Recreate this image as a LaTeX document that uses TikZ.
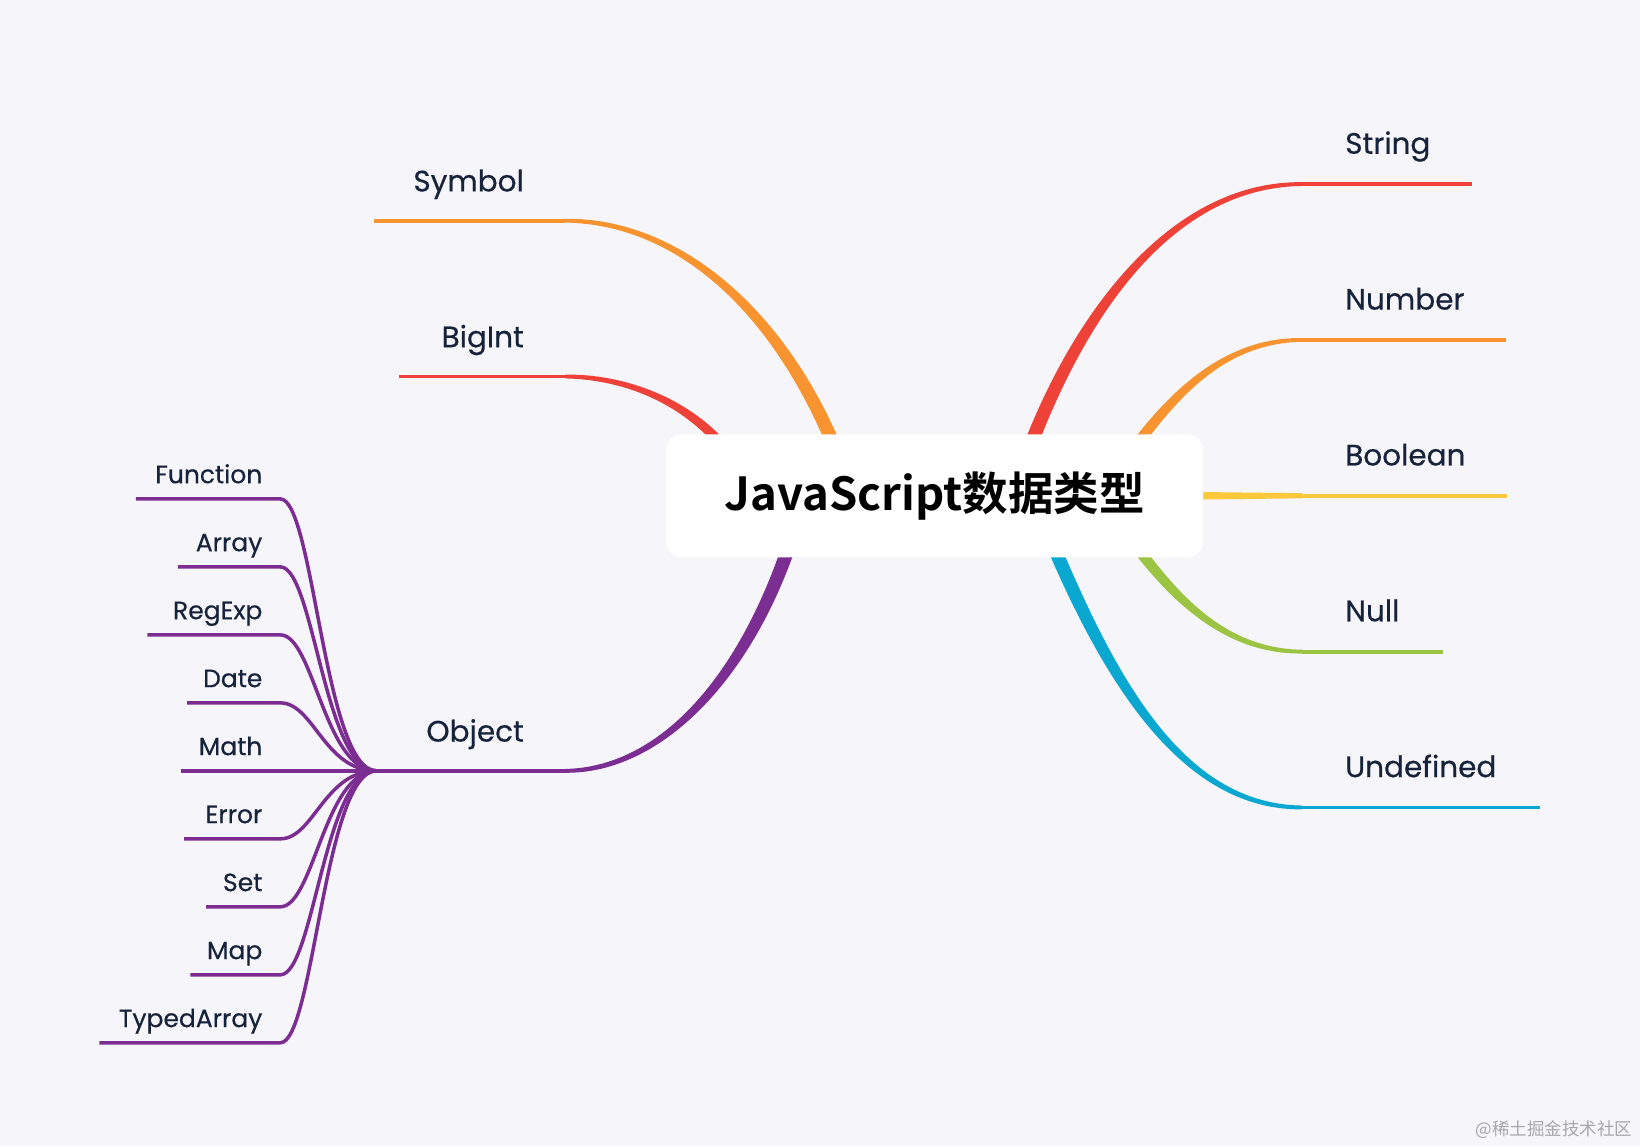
\documentclass[tikz,border=0pt]{standalone}
\usepackage{fontspec}
\setmainfont{Poppins}[FakeBold=0.5]
\newfontfamily\titlefont{Noto Sans CJK SC Bold}
\newfontfamily\cjkfont{Noto Sans CJK SC}
\usetikzlibrary{calc}
\definecolor{bg}{HTML}{F5F5FA}
\definecolor{cred}{HTML}{EE4137}
\definecolor{corange}{HTML}{F7942F}
\definecolor{cyellow}{HTML}{FDC93A}
\definecolor{cgreen}{HTML}{9CC443}
\definecolor{ccyan}{HTML}{0AA8D1}
\definecolor{cpurple}{HTML}{7C2D92}
\definecolor{ink}{HTML}{16233A}
\definecolor{wmgray}{HTML}{A8A8AC}
% tapered branch: #1 colour, #2..#5 control coordinates, #6 start half width, #7 middle half width, #8 end half width
\newcommand{\taper}[8]{%
\fill[#1] ($(#2)!#6!90:(#3)$) .. controls ($(#3)!#6!-90:(#2)$) and ($(#4)!#7!90:(#5)$) .. ($(#5)!#8!-90:(#4)$)
 -- ($(#5)!#8!90:(#4)$) .. controls ($(#4)!#7!-90:(#5)$) and ($(#3)!#6!90:(#2)$) .. ($(#2)!#6!-90:(#3)$) -- cycle;}
\begin{document}
\begin{tikzpicture}[x=1.0459pt,y=-1.0459pt,
  mainlbl/.style={font=\fontsize{29.5}{34}\selectfont, text=ink, inner sep=0pt},
  sublbl/.style={font=\fontsize{25}{30}\selectfont, text=ink, inner sep=0pt},
  thinline/.style={line width=3.8pt},
  kid/.style={draw=cpurple, line width=3.5pt},
  rootbox/.style={fill=white, rounded corners=16pt, minimum width=537pt, minimum height=123pt, inner sep=0pt}]
\fill[bg] (0,0) rectangle (1568,1096);
\useasboundingbox (0,0) rectangle (1568,1096);

% coordinates of branches
\coordinate (sa) at (978,445);  \coordinate (sb) at (1030,300); \coordinate (sc) at (1120,176); \coordinate (sd) at (1245,176); \coordinate (se) at (1407,176);
\coordinate (na) at (1072,445); \coordinate (nb) at (1115,385); \coordinate (nc) at (1165,325); \coordinate (nd) at (1245,325); \coordinate (ne) at (1440,325);
\coordinate (ba) at (1120,474); \coordinate (bb) at (1160,474); \coordinate (bc) at (1200,474); \coordinate (bd) at (1245,474); \coordinate (be) at (1441,474);
\coordinate (ua) at (1072,503); \coordinate (ub) at (1115,563); \coordinate (uc) at (1165,623); \coordinate (ud) at (1245,623); \coordinate (ue) at (1380,623);
\coordinate (da) at (1000,505); \coordinate (db) at (1060,650); \coordinate (dc) at (1130,772); \coordinate (dd) at (1245,772); \coordinate (de) at (1472,772);
\coordinate (ya) at (805,445);  \coordinate (yb) at (750,300);  \coordinate (yc) at (650,211);  \coordinate (yd) at (540,211);  \coordinate (ye) at (358,211);
\coordinate (ga) at (705,445);  \coordinate (gb) at (670,390);  \coordinate (gc) at (605,360);  \coordinate (gd) at (540,360);  \coordinate (ge) at (381,360);
\coordinate (oa) at (760,505);  \coordinate (ob) at (715,650);  \coordinate (oc) at (630,737);  \coordinate (od) at (540,737);  \coordinate (hub) at (360,737);

% Object children
\foreach \n/\y/\xs in {f/477/130, a/542/170, r/607/141, d/672/179, e/802/176, s/867/197, m/932/182, t/997/95}{
  \coordinate (k\n s) at (\xs,\y);
  \coordinate (k\n e) at (268,\y);
  \draw[kid] (k\n s) -- (k\n e) .. controls ($(k\n e)+(32,0)$) and ($(hub)+(-50,0)$) .. (hub);
}
\coordinate (kms) at (173,737);
\draw[kid] (kms) -- (hub);

% branches
\taper{cred}{sa}{sb}{sc}{sd}{6.8pt}{3.4pt}{1.9pt}
\draw[cred, thinline] (sd) -- (se);
\taper{corange}{na}{nb}{nc}{nd}{5.6pt}{3pt}{1.9pt}
\draw[corange, thinline] (nd) -- (ne);
\taper{cyellow}{ba}{bb}{bc}{bd}{3.8pt}{3pt}{2.6pt}
\draw[cyellow, thinline] (bd) -- (be);
\taper{cgreen}{ua}{ub}{uc}{ud}{5.6pt}{3pt}{1.9pt}
\draw[cgreen, thinline] (ud) -- (ue);
\taper{ccyan}{da}{db}{dc}{dd}{6.8pt}{3.4pt}{1.9pt}
\draw[ccyan, thinline] (dd) -- (de);
\taper{corange}{ya}{yb}{yc}{yd}{6.8pt}{3.4pt}{1.9pt}
\draw[corange, thinline] (yd) -- (ye);
\taper{cred}{ga}{gb}{gc}{gd}{5.2pt}{3pt}{1.9pt}
\draw[cred, thinline] (gd) -- (ge);
\taper{cpurple}{oa}{ob}{oc}{od}{6.8pt}{3.4pt}{1.9pt}
\draw[cpurple, thinline] (od) -- (hub);

% root
\node[rootbox] (root) at (893.5,474) {\titlefont\fontsize{45.5}{53}\selectfont JavaScript数据类型};

% labels
\node[mainlbl, anchor=base west] (lstr) at (1286,147) {String};
\node[mainlbl, anchor=base west] (lnum) at (1286,296) {Number};
\node[mainlbl, anchor=base west] (lboo) at (1286,445) {Boolean};
\node[mainlbl, anchor=base west] (lnul) at (1286,594) {Null};
\node[mainlbl, anchor=base west] (lund) at (1286,743) {Undefined};
\node[mainlbl, anchor=base east] (lsym) at (501,183) {Symbol};
\node[mainlbl, anchor=base east] (lbig) at (501,332) {BigInt};
\node[mainlbl, anchor=base east] (lobj) at (501,709) {Object};

\node[sublbl, anchor=base east] (cf) at (251,462) {Function};
\node[sublbl, anchor=base east] (ca) at (251,527) {Array};
\node[sublbl, anchor=base east] (cr) at (251,592) {RegExp};
\node[sublbl, anchor=base east] (cd) at (251,657) {Date};
\node[sublbl, anchor=base east] (cm) at (251,722) {Math};
\node[sublbl, anchor=base east] (ce) at (251,787) {Error};
\node[sublbl, anchor=base east] (cs) at (251,852) {Set};
\node[sublbl, anchor=base east] (cp) at (251,917) {Map};
\node[sublbl, anchor=base east] (ct) at (251,982) {TypedArray};

\node[font=\cjkfont\fontsize{17.5}{20}\selectfont, text=wmgray, anchor=east, inner sep=0pt] (wm) at (1561,1080) {@稀土掘金技术社区};
\end{tikzpicture}
\end{document}
